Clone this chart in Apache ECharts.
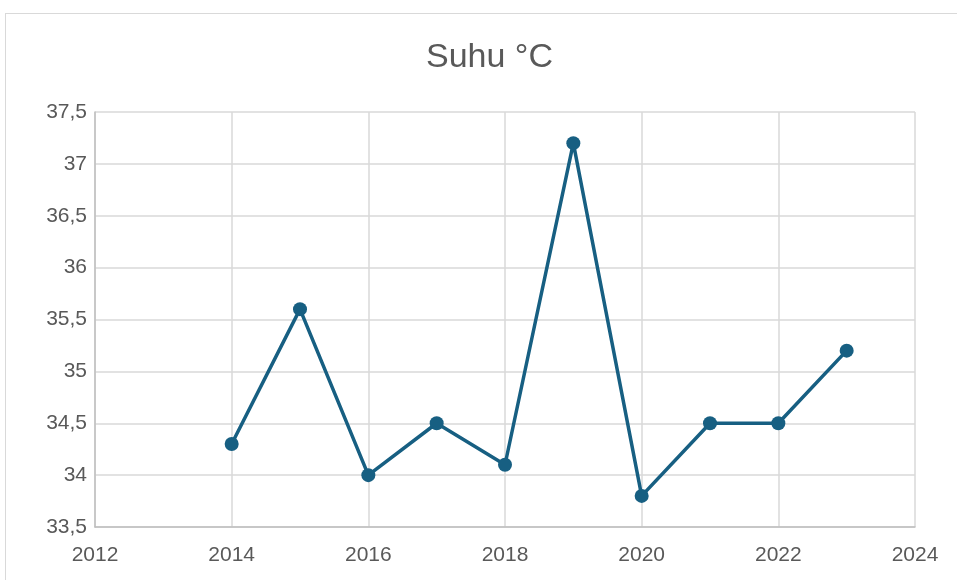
<!DOCTYPE html>
<html><head><meta charset="utf-8">
<script src="https://cdn.jsdelivr.net/npm/echarts@6/dist/echarts.min.js"></script>
<style>
html,body{margin:0;padding:0;background:#fff;}
#frame{position:absolute;left:5px;top:13px;width:980px;height:600px;border:1px solid #d9d9d9;box-sizing:border-box;}
#chart{position:absolute;left:0;top:0;width:957px;height:580px;}
</style></head>
<body>
<div id="frame"></div>
<div id="chart"></div>
<script>
const chartTitle = "Suhu °C";
const years = [2014, 2015, 2016, 2017, 2018, 2019, 2020, 2021, 2022, 2023];
const temps = [34.3, 35.6, 34.0, 34.5, 34.1, 37.2, 33.8, 34.5, 34.5, 35.2];
const xMin = 2012, xMax = 2024, xStep = 2;
const yMin = 33.5, yMax = 37.5, yStep = 0.5;

const chart = echarts.init(document.getElementById('chart'), null, {renderer: 'canvas'});
const font = 'Liberation Sans';
chart.setOption({
  animation: false,
  title: {
    text: chartTitle, left: 421, top: 36,
    textStyle: {fontFamily: font, fontSize: 34, fontWeight: 'normal', color: '#595959'}
  },
  grid: {left: 95, right: 42, top: 112, bottom: 53, containLabel: false},
  xAxis: {
    type: 'value', min: xMin, max: xMax, interval: xStep,
    axisLine: {show: true, lineStyle: {color: '#bfbfbf', width: 1.5}},
    axisTick: {show: false},
    splitLine: {show: true, lineStyle: {color: '#d9d9d9', width: 1.5}},
    axisLabel: {fontFamily: font, fontSize: 21, color: '#595959', margin: 18,
      formatter: v => String(v)}
  },
  yAxis: {
    type: 'value', min: yMin, max: yMax, interval: yStep,
    axisLine: {show: true, lineStyle: {color: '#bfbfbf', width: 1.5}},
    axisTick: {show: false},
    splitLine: {show: true, lineStyle: {color: '#d9d9d9', width: 1.5}},
    axisLabel: {fontFamily: font, fontSize: 21, color: '#595959', margin: 8,
      formatter: v => String(v).replace('.', ',')}
  },
  series: [{
    type: 'line',
    data: years.map((y, i) => [y, temps[i]]),
    symbol: 'circle', symbolSize: 14,
    lineStyle: {color: '#175f82', width: 3.5},
    itemStyle: {color: '#175f82'}
  }]
});
</script>
</body></html>
